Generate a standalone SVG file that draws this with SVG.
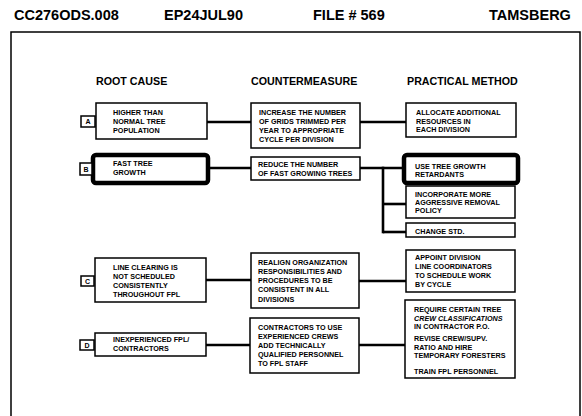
<svg xmlns="http://www.w3.org/2000/svg" width="582" height="416" viewBox="0 0 582 416">
<style>
text{font-family:"Liberation Sans",Arial,sans-serif;font-weight:bold;fill:#000}
.hd{font-size:14.5px}
.col{font-size:10.7px}
.t{font-size:7.2px}
.lb{font-size:7px;text-anchor:middle}
.box{fill:#fff;stroke:#000;stroke-width:1.5}
.thick{fill:#fff;stroke:#000;stroke-width:4.5}
.conn line{stroke:#000;stroke-width:2.6}
.frame{fill:none;stroke:#000;stroke-width:1.5}
</style>
<rect width="582" height="416" fill="#fff"/>
<g id="header">
<text class="hd" x="14" y="19.5">CC276ODS.008</text>
<text class="hd" x="164" y="19.5">EP24JUL90</text>
<text class="hd" x="313" y="19.5">FILE # 569</text>
<text class="hd" x="489" y="19.5">TAMSBERG</text>
</g>
<path class="frame" d="M11,416 V32 H580 V416"/>
<g id="headings">
<text class="col" x="96" y="85">ROOT CAUSE</text>
<text class="col" x="251" y="85">COUNTERMEASURE</text>
<text class="col" x="407" y="85">PRACTICAL METHOD</text>
</g>
<g class="conn" id="connectors">
<line x1="207" y1="122" x2="251" y2="122"/>
<line x1="360" y1="122" x2="406" y2="122"/>
<line x1="208" y1="168" x2="251" y2="168"/>
<line x1="360" y1="168" x2="404" y2="168"/>
<line x1="383" y1="166.7" x2="383" y2="233.3"/>
<line x1="383" y1="204" x2="406" y2="204"/>
<line x1="383" y1="232" x2="406" y2="232"/>
<line x1="206" y1="280" x2="251" y2="280"/>
<line x1="359" y1="281" x2="406" y2="281"/>
<line x1="206" y1="345" x2="250" y2="345"/>
<line x1="359" y1="345" x2="405" y2="345"/>
</g>
<g id="rootA">
<rect class="box" x="96" y="103" width="111" height="36"/>
<rect class="box" x="81" y="116" width="14" height="11"/>
<text class="lb" x="88" y="124.3">A</text>
<text class="t" x="113" y="114.5">HIGHER THAN</text>
<text class="t" x="113" y="123.5">NORMAL TREE</text>
<text class="t" x="113" y="132.5">POPULATION</text>
</g>
<g id="rootB">
<rect class="thick" x="93" y="155" width="115" height="28" rx="3"/>
<rect class="box" x="80" y="163" width="12" height="12"/>
<text class="lb" x="86" y="171.6">B</text>
<text class="t" x="113" y="165.5">FAST TREE</text>
<text class="t" x="113" y="174.5">GROWTH</text>
</g>
<g id="rootC">
<rect class="box" x="95" y="258" width="111" height="44"/>
<rect class="box" x="81" y="276" width="13" height="10"/>
<text class="lb" x="87.5" y="283.6">C</text>
<text class="t" x="113" y="269.5">LINE CLEARING IS</text>
<text class="t" x="113" y="278.5">NOT SCHEDULED</text>
<text class="t" x="113" y="287.5">CONSISTENTLY</text>
<text class="t" x="113" y="296.5">THROUGHOUT FPL</text>
</g>
<g id="rootD">
<rect class="box" x="95" y="333" width="111" height="23"/>
<rect class="box" x="80" y="340" width="14" height="10"/>
<text class="lb" x="87" y="347.6">D</text>
<text class="t" x="113" y="341.5">INEXPERIENCED FPL/</text>
<text class="t" x="113" y="350.5">CONTRACTORS</text>
</g>
<g id="cmA">
<rect class="box" x="251" y="103" width="109" height="45"/>
<text class="t" x="259" y="114.5">INCREASE THE NUMBER</text>
<text class="t" x="259" y="123.5">OF GRIDS TRIMMED PER</text>
<text class="t" x="259" y="132.5">YEAR TO APPROPRIATE</text>
<text class="t" x="259" y="141.5">CYCLE PER DIVISION</text>
</g>
<g id="cmB">
<rect class="box" x="251" y="157" width="109" height="23"/>
<text class="t" x="258" y="166.5">REDUCE THE NUMBER</text>
<text class="t" x="258" y="175.5">OF FAST GROWING TREES</text>
</g>
<g id="cmC">
<rect class="box" x="251" y="253" width="108" height="55"/>
<text class="t" x="258" y="264.5">REALIGN ORGANIZATION</text>
<text class="t" x="258" y="273.7">RESPONSIBILITIES AND</text>
<text class="t" x="258" y="283">PROCEDURES TO BE</text>
<text class="t" x="258" y="292.2">CONSISTENT IN ALL</text>
<text class="t" x="258" y="301.5">DIVISIONS</text>
</g>
<g id="cmD">
<rect class="box" x="250" y="318" width="109" height="55"/>
<text class="t" x="258" y="329.5">CONTRACTORS TO USE</text>
<text class="t" x="258" y="338.5">EXPERIENCED CREWS</text>
<text class="t" x="258" y="347.5">ADD TECHNICALLY</text>
<text class="t" x="258" y="356.5">QUALIFIED PERSONNEL</text>
<text class="t" x="258" y="365.5">TO FPL STAFF</text>
</g>
<g id="pmA">
<rect class="box" x="406" y="103" width="110" height="34"/>
<text class="t" x="416" y="114.5">ALLOCATE ADDITIONAL</text>
<text class="t" x="416" y="123.5">RESOURCES IN</text>
<text class="t" x="416" y="132">EACH DIVISION</text>
</g>
<g id="pmB1">
<rect class="thick" x="404" y="155" width="114" height="28" rx="3"/>
<text class="t" x="415" y="169">USE TREE GROWTH</text>
<text class="t" x="415" y="177">RETARDANTS</text>
</g>
<g id="pmB2">
<rect class="box" x="406" y="186" width="109" height="32"/>
<text class="t" x="415" y="196.5">INCORPORATE MORE</text>
<text class="t" x="415" y="204.5">AGGRESSIVE REMOVAL</text>
<text class="t" x="415" y="212.5">POLICY</text>
</g>
<g id="pmB3">
<rect class="box" x="406" y="223" width="109" height="14"/>
<text class="t" x="415" y="233.5">CHANGE STD.</text>
</g>
<g id="pmC">
<rect class="box" x="406" y="250" width="109" height="42"/>
<text class="t" x="415" y="259.5">APPOINT DIVISION</text>
<text class="t" x="415" y="268.5">LINE COORDINATORS</text>
<text class="t" x="415" y="278">TO SCHEDULE WORK</text>
<text class="t" x="415" y="286.5">BY CYCLE</text>
</g>
<g id="pmD">
<rect class="box" x="405" y="300" width="110" height="78"/>
<text class="t" x="414" y="311.5">REQUIRE CERTAIN TREE</text>
<text class="t" x="414" y="320.5" font-style="italic">CREW CLASSIFICATIONS</text>
<text class="t" x="414" y="329">IN CONTRACTOR P.O.</text>
<text class="t" x="414" y="340.5">REVISE CREW/SUPV.</text>
<text class="t" x="414" y="349.5">RATIO AND HIRE</text>
<text class="t" x="414" y="358">TEMPORARY FORESTERS</text>
<text class="t" x="414" y="373.5">TRAIN FPL PERSONNEL</text>
</g>
</svg>
